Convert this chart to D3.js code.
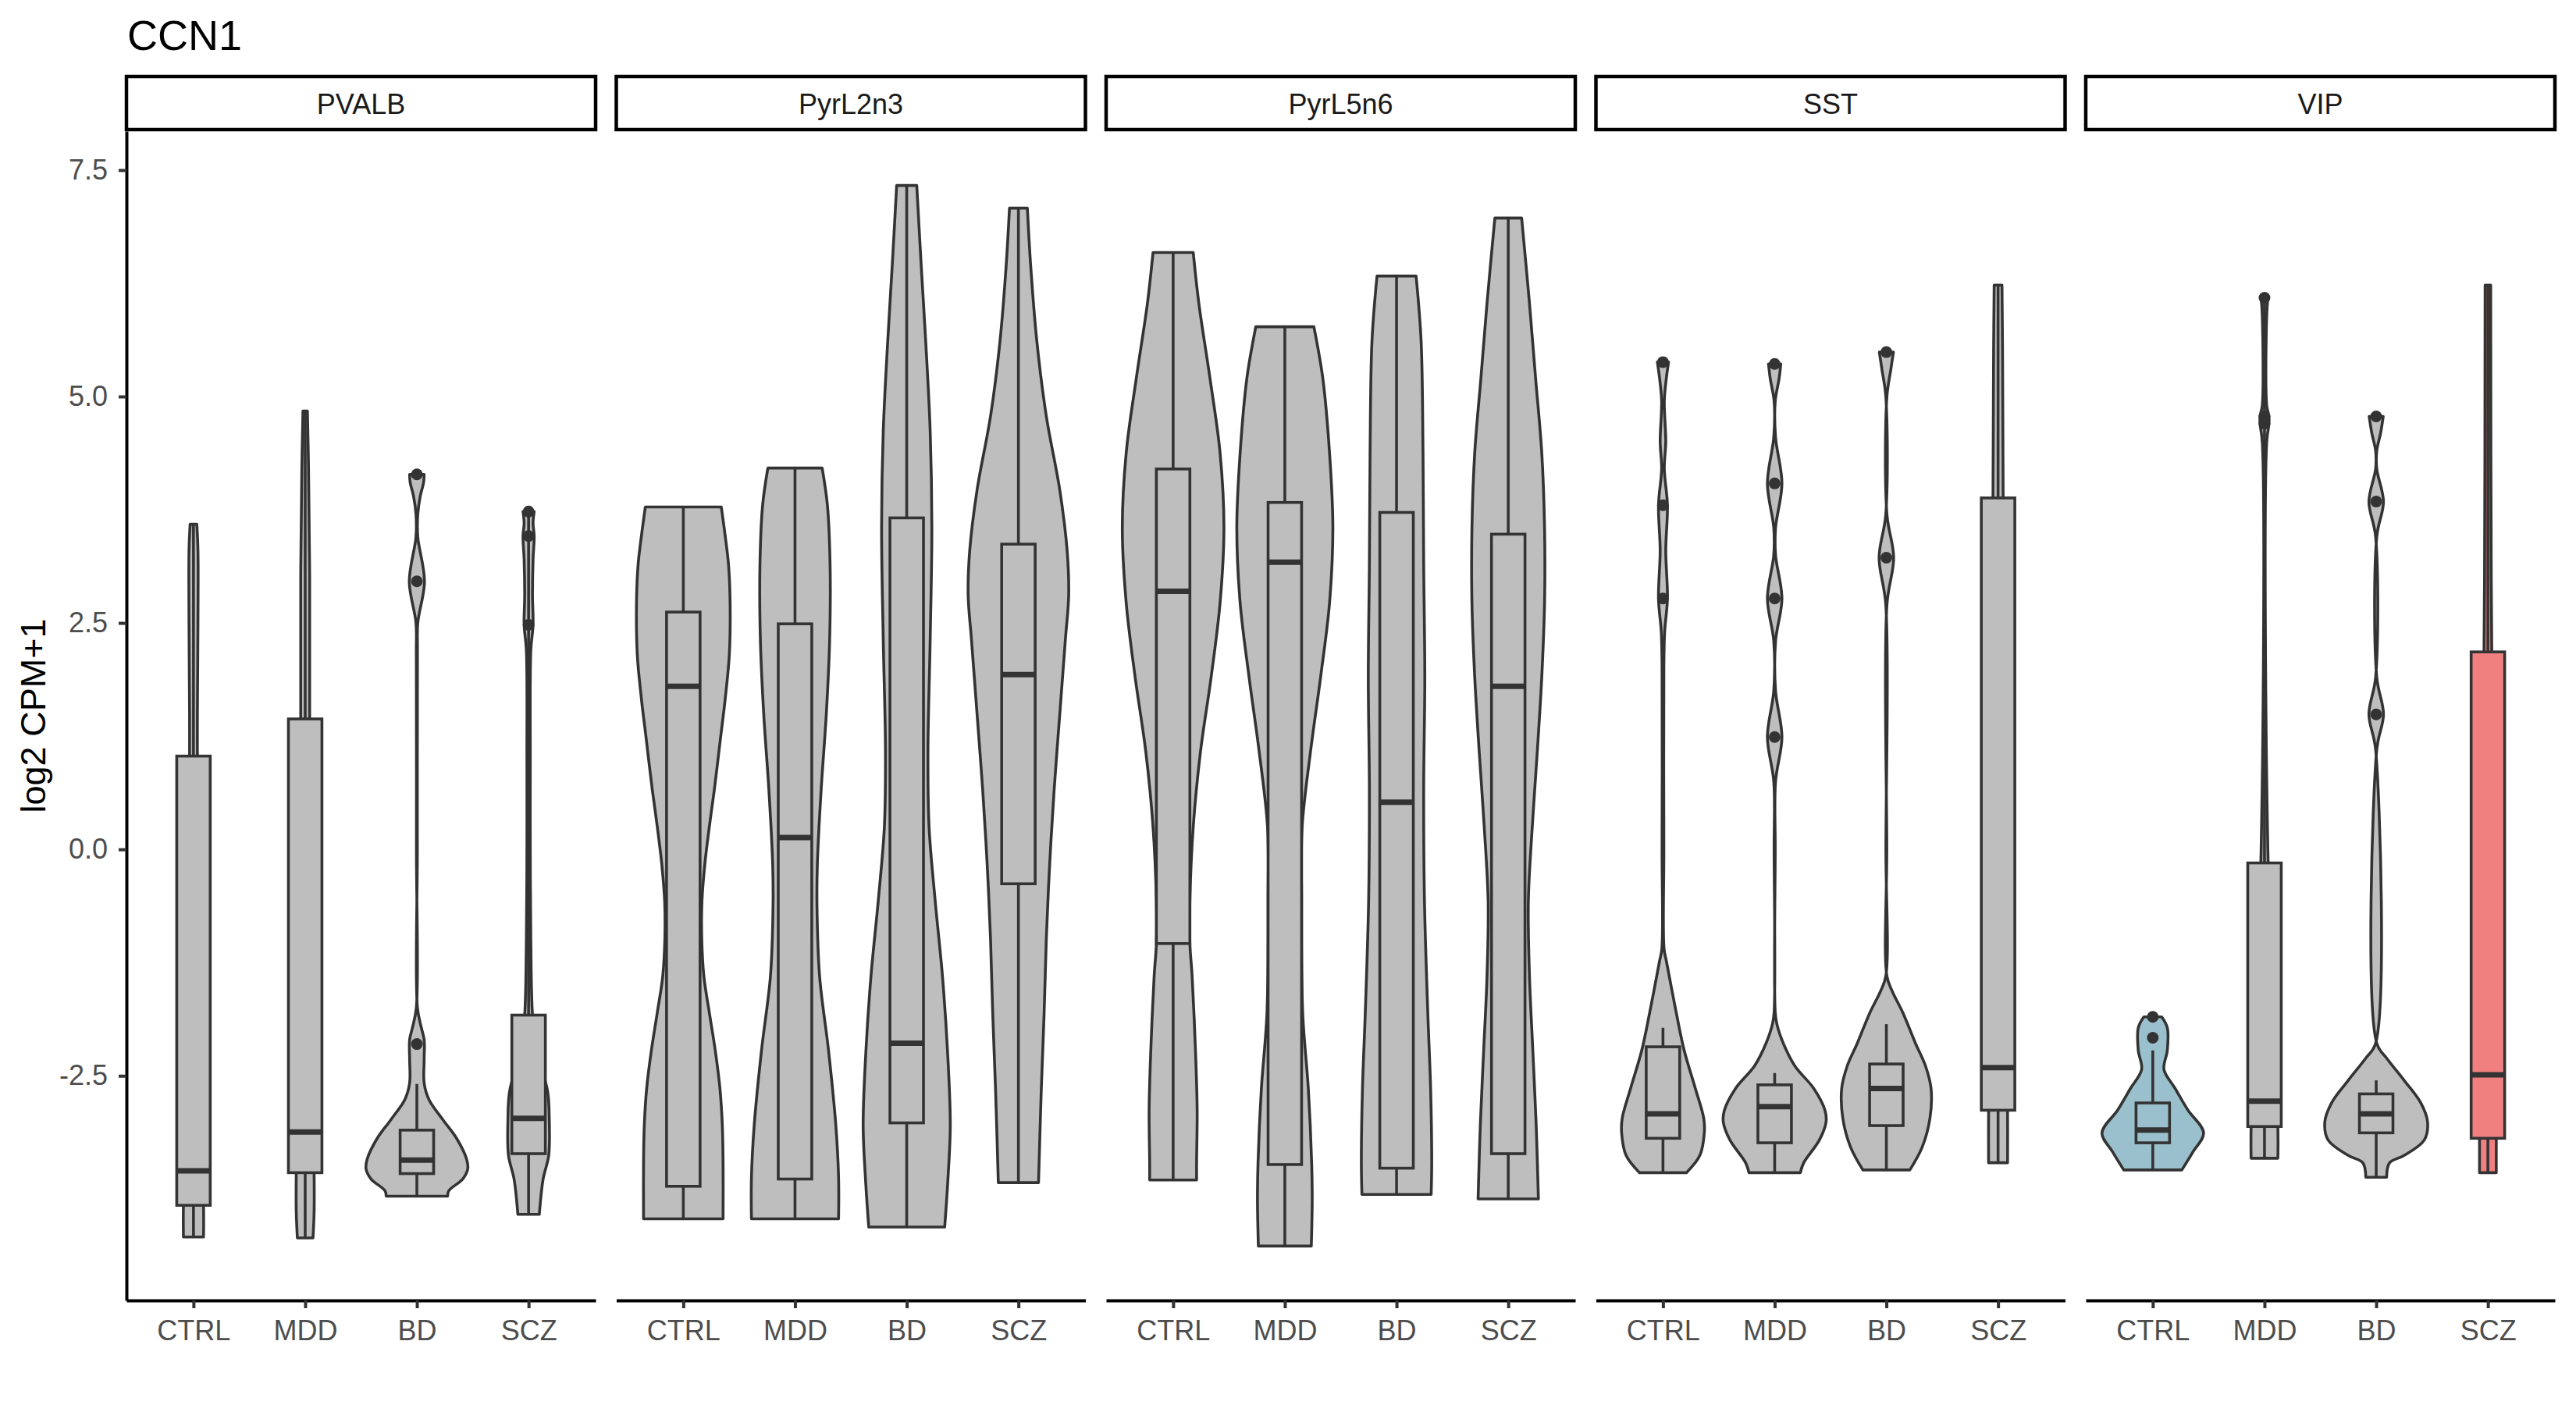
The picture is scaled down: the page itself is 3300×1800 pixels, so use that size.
<!DOCTYPE html>
<html><head><meta charset="utf-8">
<script src="https://cdn.jsdelivr.net/npm/d3@7"></script>
<style>body{margin:0;background:#fff}svg{display:block}</style>
</head><body>
<svg id="chart" width="3300" height="1800"></svg>
<script>
// ---------------- data ----------------
const chartTitle = "CCN1";
const yTitle = "log2 CPM+1";
const panels = ["PVALB", "PyrL2n3", "PyrL5n6", "SST", "VIP"];
const groups = ["CTRL", "MDD", "BD", "SCZ"];
const yTicks = [-2.5, 0.0, 2.5, 5.0, 7.5];

// boxplot stats per panel, order CTRL, MDD, BD, SCZ
const boxQ3 = [
  [1.03, 1.44, -3.10, -1.83],
  [2.62, 2.49, 3.66, 3.37],
  [4.20, 3.83, 3.72, 3.48],
  [-2.18, -2.60, -2.37, 3.88],
  [-2.80, -0.15, -2.70, 2.18]
];
const boxMedian = [
  [-3.55, -3.12, -3.43, -2.97],
  [1.80, 0.13, -2.14, 1.93],
  [2.85, 3.17, 0.52, 1.80],
  [-2.92, -2.84, -2.64, -2.41],
  [-3.10, -2.78, -2.92, -2.49]
];
const boxQ1 = [
  [-3.93, -3.57, -3.58, -3.36],
  [-3.72, -3.64, -3.02, -0.38],
  [-1.04, -3.48, -3.52, -3.36],
  [-3.19, -3.24, -3.05, -2.88],
  [-3.24, -3.06, -3.13, -3.19]
];
const whiskerLow = [
  [-4.28, -4.29, -3.83, -4.03],
  [-4.08, -4.08, -4.17, -3.68],
  [-3.65, -4.38, -3.81, -3.86],
  [-3.57, -3.57, -3.54, -3.46],
  [-3.54, -3.41, -3.62, -3.57]
];
const whiskerHigh = [
  [3.59, 4.84, -2.59, 3.73],
  [3.78, 4.21, 7.33, 7.08],
  [6.59, 5.77, 6.33, 6.97],
  [-1.97, -2.47, -1.93, 6.23],
  [-2.22, 6.09, -2.55, 6.23]
];
const outlierPoints = [
  [[], [], [4.14, 2.96, -2.15], [3.73, 3.46, 2.48]],
  [[], [], [], []],
  [[], [], [], []],
  [[5.38, 3.80, 2.77], [5.36, 4.04, 2.77, 1.24], [5.49, 3.22], []],
  [[-1.85, -2.08], [6.09, 4.78, 4.70], [4.78, 3.84, 1.49], []]
];
const fillColors = [
  ["#BEBEBE", "#BEBEBE", "#BEBEBE", "#BEBEBE"],
  ["#BEBEBE", "#BEBEBE", "#BEBEBE", "#BEBEBE"],
  ["#BEBEBE", "#BEBEBE", "#BEBEBE", "#BEBEBE"],
  ["#BEBEBE", "#BEBEBE", "#BEBEBE", "#BEBEBE"],
  ["#9AC0CD", "#BEBEBE", "#BEBEBE", "#F08080"]
];

// violin outlines: [value, half-width in category units]
const violinPVALB = [
  [[3.59,.03],[3.3,.04],[2.5,.04],[1.5,.035],[1.0,.035],[-1,.04],[-3,.06],[-3.93,.09],[-4.28,.09]],
  [[4.84,.02],[4.2,.03],[3.0,.04],[1.44,.04],[-1,.05],[-3.57,.08],[-4.0,.08],[-4.29,.07]],
  [[4.14,.065],[4.05,.06],[3.9,.03],[3.7,.008],[3.45,.008],[2.96,.068],[2.5,.008],[2.2,.005],[0,.004],[-1.75,.005],[-1.97,.04],[-2.10,.065],[-2.32,.065],[-2.58,.065],[-2.76,.107],[-2.98,.23],[-3.2,.36],[-3.42,.445],[-3.53,.455],[-3.64,.41],[-3.77,.285],[-3.83,.275]],
  [[3.73,.05],[3.6,.04],[3.46,.05],[3.2,.04],[2.8,.035],[2.48,.04],[2.2,.02],[1.0,.015],[0,.015],[-1,.02],[-1.83,.035],[-2.2,.07],[-2.67,.17],[-2.98,.185],[-3.38,.18],[-3.64,.13],[-4.03,.096]]
];
const violinPyrL2n3 = [
  [[3.78,.34],[3.47,.374],[3.14,.405],[2.72,.419],[2.15,.412],[1.65,.374],[1.24,.334],[0.66,.278],[0.26,.234],[-0.16,.193],[-0.57,.167],[-0.98,.165],[-1.4,.184],[-1.81,.234],[-2.22,.286],[-2.64,.328],[-3.04,.349],[-3.46,.356],[-4.08,.356]],
  [[4.21,.243],[3.80,.29],[3.14,.314],[2.31,.31],[1.49,.28],[0.66,.234],[-0.16,.20],[-0.65,.197],[-1.40,.22],[-2.22,.30],[-3.04,.365],[-3.62,.39],[-4.08,.39]],
  [[7.33,.09],[6.44,.13],[5.61,.17],[4.62,.21],[3.55,.225],[2.31,.21],[1.08,.19],[0.25,.20],[-0.57,.255],[-1.40,.32],[-2.22,.365],[-3.04,.39],[-3.62,.37],[-4.17,.34]],
  [[7.08,.08],[6.44,.11],[5.61,.165],[4.78,.25],[3.97,.37],[3.30,.436],[2.81,.45],[2.31,.42],[1.49,.37],[0.66,.32],[-0.16,.28],[-0.98,.25],[-1.81,.23],[-2.64,.205],[-3.68,.18]]
];
const violinPyrL5n6 = [
  [[6.59,.18],[6.03,.23],[5.20,.33],[4.38,.42],[3.55,.455],[2.72,.42],[1.90,.34],[1.08,.245],[0.25,.18],[-0.57,.15],[-1.04,.15],[-1.40,.17],[-2.22,.20],[-2.88,.215],[-3.46,.21],[-3.65,.21]],
  [[5.77,.26],[5.20,.34],[4.38,.40],[3.55,.43],[2.72,.40],[1.90,.32],[1.08,.23],[0.25,.155],[-0.57,.15],[-1.81,.16],[-2.64,.21],[-3.46,.24],[-3.87,.245],[-4.38,.237]],
  [[6.33,.175],[5.61,.22],[4.38,.237],[3.14,.243],[1.90,.253],[0.66,.243],[-0.57,.25],[-1.81,.28],[-2.64,.305],[-3.46,.315],[-3.81,.31]],
  [[6.97,.12],[6.03,.19],[5.20,.245],[4.38,.30],[3.55,.325],[2.72,.325],[1.90,.30],[1.08,.26],[0.25,.215],[-0.57,.18],[-1.40,.19],[-2.22,.22],[-3.04,.25],[-3.86,.27]]
];
const violinSST = [
  [[5.38,.05],[5.2,.03],[4.95,.012],[4.5,.025],[4.2,.012],[3.80,.04],[3.3,.025],[2.77,.04],[2.4,.015],[2.0,.008],[0,.008],[-1.1,.01],[-1.23,.03],[-1.81,.12],[-2.22,.19],[-2.64,.29],[-2.97,.365],[-3.13,.37],[-3.38,.33],[-3.57,.21]],
  [[5.36,.055],[5.2,.04],[4.95,.005],[4.55,.008],[4.04,.065],[3.55,.008],[3.25,.008],[2.77,.065],[2.3,.008],[1.75,.008],[1.24,.065],[0.75,.008],[0,.005],[-1.8,.005],[-1.93,.02],[-2.14,.077],[-2.39,.18],[-2.64,.35],[-2.88,.45],[-3.01,.46],[-3.21,.40],[-3.46,.26],[-3.57,.23]],
  [[5.49,.063],[5.3,.04],[5.0,.005],[3.7,.005],[3.22,.065],[2.7,.005],[0,.004],[-1.40,.005],[-1.56,.05],[-1.81,.15],[-2.14,.26],[-2.39,.35],[-2.64,.40],[-2.97,.39],[-3.29,.32],[-3.54,.21]],
  [[6.23,.035],[5.5,.04],[4.0,.045],[3,.05],[0,.06],[-2.5,.08],[-2.9,.085],[-3.46,.085]]
];
const violinVIP = [
  [[-1.85,.08],[-1.97,.13],[-2.22,.13],[-2.43,.10],[-2.64,.20],[-2.88,.315],[-3.13,.455],[-3.34,.36],[-3.54,.26]],
  [[6.09,.03],[5.9,.02],[4.9,.02],[4.78,.04],[4.7,.04],[4.5,.02],[0,.03],[-3.06,.12],[-3.41,.12]],
  [[4.78,.063],[4.6,.04],[4.4,.005],[4.2,.005],[3.84,.065],[3.45,.005],[1.9,.005],[1.49,.065],[1.1,.005],[-2.14,.005],[-2.30,.09],[-2.55,.25],[-2.80,.40],[-3.01,.46],[-3.21,.43],[-3.38,.25],[-3.46,.12],[-3.62,.093]],
  [[6.23,.025],[3,.03],[0,.05],[-3.19,.075],[-3.57,.075]]
];
const violins = [violinPVALB, violinPyrL2n3, violinPyrL5n6, violinSST, violinVIP];

// ---------------- drawing ----------------
const svg = d3.select("#chart");
const FONT = "Liberation Sans, Arial, Helvetica, sans-serif";
const plotTop = 168, plotBottom = 1666;
const stripTop = 98, stripH = 68;
const ink = "#333333";

const y = d3.scaleLinear().domain([-4.98, 7.93]).range([plotBottom, plotTop]);
const px = d3.scaleBand().domain(panels).range([162, 3273]).paddingInner(0.0422).paddingOuter(0);
const xIn = d3.scalePoint().domain(groups).range([0, px.bandwidth()]).padding(0.6);
const unit = xIn.step();
const boxHalf = 0.15 * unit;

svg.append("rect").attr("width", 3300).attr("height", 1800).attr("fill", "#fff");

svg.append("text").attr("x", 163).attr("y", 64)
  .attr("font-family", FONT).attr("font-size", 54).attr("fill", "#000")
  .text(chartTitle);

svg.append("text")
  .attr("transform", `translate(58,${(plotTop + plotBottom) / 2}) rotate(-90)`)
  .attr("text-anchor", "middle").attr("font-family", FONT).attr("font-size", 45).attr("fill", "#000")
  .text(yTitle);

panels.forEach((p, pi) => {
  const g = svg.append("g").attr("transform", `translate(${px(p)},0)`);
  // strip
  g.append("rect").attr("x", 0).attr("y", stripTop).attr("width", px.bandwidth()).attr("height", stripH)
    .attr("fill", "#fff").attr("stroke", "#000").attr("stroke-width", 4.5);
  g.append("text").attr("x", px.bandwidth() / 2).attr("y", stripTop + stripH / 2 + 1)
    .attr("dominant-baseline", "central").attr("text-anchor", "middle")
    .attr("font-family", FONT).attr("font-size", 36).attr("fill", "#1A1A1A").text(p);

  groups.forEach((grp, gi) => {
    const cx = xIn(grp);
    const prof = violins[pi][gi];
    const fill = fillColors[pi][gi];
    const area = d3.area()
      .y(d => y(d[0]))
      .x0(d => cx - d[1] * unit)
      .x1(d => cx + d[1] * unit)
      .curve(d3.curveCatmullRom.alpha(0.5));
    g.append("path").attr("d", area(prof))
      .attr("fill", fill).attr("stroke", ink).attr("stroke-width", 3.6).attr("stroke-linejoin", "round");

    // whiskers
    g.append("line").attr("x1", cx).attr("x2", cx)
      .attr("y1", y(boxQ3[pi][gi])).attr("y2", y(whiskerHigh[pi][gi]))
      .attr("stroke", ink).attr("stroke-width", 3.6);
    g.append("line").attr("x1", cx).attr("x2", cx)
      .attr("y1", y(boxQ1[pi][gi])).attr("y2", y(whiskerLow[pi][gi]))
      .attr("stroke", ink).attr("stroke-width", 3.6);
    // box
    g.append("rect").attr("x", cx - boxHalf).attr("width", 2 * boxHalf)
      .attr("y", y(boxQ3[pi][gi])).attr("height", y(boxQ1[pi][gi]) - y(boxQ3[pi][gi]))
      .attr("fill", fill).attr("stroke", ink).attr("stroke-width", 3.6);
    g.append("line").attr("x1", cx - boxHalf).attr("x2", cx + boxHalf)
      .attr("y1", y(boxMedian[pi][gi])).attr("y2", y(boxMedian[pi][gi]))
      .attr("stroke", ink).attr("stroke-width", 7);
    // outliers
    g.selectAll(null).data(outlierPoints[pi][gi]).enter().append("circle")
      .attr("cx", cx).attr("cy", d => y(d)).attr("r", 7.5).attr("fill", ink);
  });

  // x axis
  const xa = g.append("g").attr("transform", `translate(0,${plotBottom})`)
    .call(d3.axisBottom(xIn).tickSize(10).tickSizeOuter(0).tickPadding(15));
  xa.select(".domain").attr("stroke", "#000").attr("stroke-width", 4);
  xa.selectAll(".tick line").attr("stroke", ink).attr("stroke-width", 4);
  xa.selectAll(".tick text").attr("font-family", FONT).attr("font-size", 36).attr("fill", "#4D4D4D");

  if (pi === 0) {
    const ya = g.append("g")
      .call(d3.axisLeft(y).tickValues(yTicks).tickFormat(d => d.toFixed(1)).tickSize(10).tickSizeOuter(0).tickPadding(14));
    ya.select(".domain").attr("stroke", "#000").attr("stroke-width", 4);
    ya.selectAll(".tick line").attr("stroke", ink).attr("stroke-width", 4);
    ya.selectAll(".tick text").attr("font-family", FONT).attr("font-size", 36).attr("fill", "#4D4D4D");
  }
});
</script>
</body></html>
